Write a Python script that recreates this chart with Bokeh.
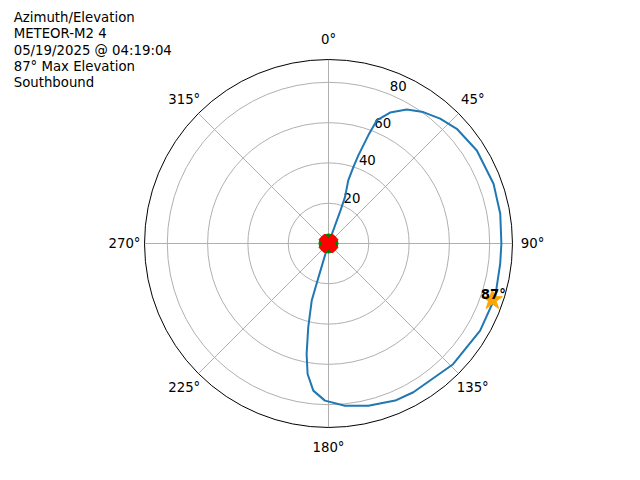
import numpy as np
from bokeh.plotting import figure
from bokeh.models import Range1d
from bokeh.core.properties import value
from bokeh.embed import file_html
from bokeh.resources import INLINE

# ---- data ----
title_lines = ["Azimuth/Elevation", "METEOR-M2 4", "05/19/2025 @ 04:19:04",
               "87\u00b0 Max Elevation", "Southbound"]

track_az = [0, 20.0, 19.6, 17.4, 18.0, 18.7, 20.2, 21.4, 25.2, 30.3, 35.8, 41.8,
            48.2, 57.9, 70.1, 80.2, 90.0, 96.8, 107.9, 119.9, 134.1, 150.3,
            157.0, 166.2, 174.2, 181.3, 185.9, 189.1, 191.2, 193.6, 196.4, 196.5, 0]
track_r = [0, 16.0, 24.4, 32.8, 39.9, 46.2, 57.2, 65.6, 71.8, 77.0, 80.4, 83.1,
           85.4, 86.9, 87.1, 86.5, 85.8, 85.8, 86.9, 86.8, 86.1, 85.0,
           84.7, 82.9, 80.9, 78.0, 73.4, 65.6, 55.9, 42.8, 29.5, 17.0, 0]

start_az, start_r = [0.0], [0.0]
end_az, end_r = [0.0], [0.0]
max_az, max_r, max_label = [109.0], [86.0], ["87\u00b0"]

r_ticks = [20, 40, 60, 80]
r_max = 91.3
theta_ticks = [0, 45, 90, 135, 180, 225, 270, 315]
theta_labels = ["0\u00b0", "45\u00b0", "90\u00b0", "135\u00b0", "180\u00b0",
                "225\u00b0", "270\u00b0", "315\u00b0"]

# ---- layout ----
W, H = 624, 464
cx, cy = 328.0, 243.0       # center in figure px (from top-left)
s = 2.015                   # px per radial unit


def polar(az, r):
    a = np.radians(np.asarray(az, dtype=float))
    r = np.asarray(r, dtype=float)
    return r * np.sin(a), r * np.cos(a)


def px_x(x):
    return (x - cx) / s


def px_y(y):
    return (cy - y) / s


p = figure(width=W, height=H, output_backend="svg", toolbar_location=None,
           x_range=Range1d(-cx / s, (W - cx) / s), y_range=Range1d(-(H - cy) / s, cy / s),
           min_border=0)
p.axis.visible = False
p.xgrid.visible = False
p.ygrid.visible = False
p.outline_line_color = None
p.background_fill_color = "white"

FONT = value("DejaVu Sans")
FS = "13.3px"
grid_col = "#b0b0b0"

# grid circles
p.circle(x=[0] * len(r_ticks), y=[0] * len(r_ticks), radius=r_ticks,
         fill_color=None, line_color=grid_col, line_width=1)
# spokes
sx, sy = polar(theta_ticks, [r_max] * len(theta_ticks))
p.segment(x0=[0] * len(theta_ticks), y0=[0] * len(theta_ticks), x1=sx, y1=sy,
          line_color=grid_col, line_width=1)
# outer circle
p.circle(x=[0], y=[0], radius=[r_max], fill_color=None, line_color="black", line_width=1)

# theta labels
lx, ly = polar(theta_ticks, [204 / s] * len(theta_ticks))
p.text(x=lx, y=ly, text=theta_labels, text_font=FONT, text_font_size=FS,
       text_align="center", text_baseline="middle", text_color="black")

# radial labels
rx, ry = polar([22.5] * len(r_ticks), r_ticks)
p.text(x=rx, y=ry, text=[str(t) for t in r_ticks], text_font=FONT, text_font_size=FS,
       text_align="center", text_baseline="middle", x_offset=8, y_offset=-8.6,
       text_color="black")

# track
tx, ty = polar(track_az, track_r)
p.line(tx, ty, line_color="#1f77b4", line_width=2)

# start / end markers
gx, gy = polar(start_az, start_r)
p.scatter(gx, gy, marker="circle", size=19, fill_color="green", line_color="green")
ex, ey = polar(end_az, end_r)
for ang in (45, -45):
    p.rect(x=ex, y=ey, width=19, height=7.5, angle=np.radians(ang),
           width_units="screen", height_units="screen",
           fill_color="red", line_color="red", line_width=1)

# max elevation star
mx, my = polar(max_az, max_r)
p.scatter(mx, my, marker="star", size=21, fill_color="orange", line_color="orange")
p.text(x=mx, y=my, text=max_label, text_font=FONT, text_font_size=FS,
       text_font_style="bold", text_align="center", text_baseline="alphabetic",
       x_offset=1, y_offset=-5, text_color="black")

# title block
base_top = [17.3, 33.4, 49.5, 65.6, 81.7]
p.text(x=[px_x(13.2)] * len(title_lines), y=[px_y(b) for b in base_top], text=title_lines,
       text_font=FONT, text_font_size=FS, text_align="left",
       text_baseline="alphabetic", text_color="black")

open("out.html", "w").write(file_html(p, INLINE))
